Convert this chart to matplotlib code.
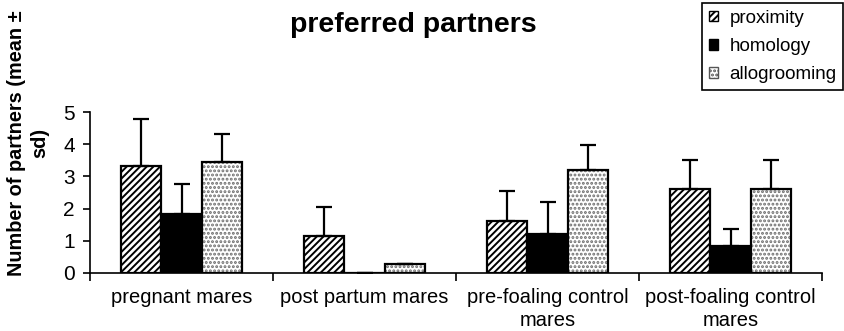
import numpy as np
import matplotlib.pyplot as plt
from matplotlib.patches import Patch

plt.rcParams['font.family'] = ['Liberation Sans', 'DejaVu Sans']
plt.rcParams['hatch.linewidth'] = 1.4

# mean number of preferred partners and sd, per group of mares
groups = ['pregnant mares', 'post partum mares',
          'pre-foaling control\nmares', 'post-foaling control\nmares']
proximity = [3.33, 1.14, 1.63, 2.61]
proximity_sd = [1.46, 0.91, 0.93, 0.90]
homology = [1.84, 0.0, 1.22, 0.83]
homology_sd = [0.93, 0.0, 0.99, 0.55]
allogrooming = [3.45, 0.29, 3.21, 2.61]
allogrooming_sd = [0.88, 0.0, 0.76, 0.90]

fig = plt.figure(figsize=(8.44, 3.31), dpi=100)
ax = fig.add_axes([90 / 844, 58 / 331, 732 / 844, 161 / 331])

x = np.arange(len(groups))
w = 0.222
err_kw = dict(fmt='none', ecolor='black', elinewidth=1.6, capsize=6, capthick=1.6)

ax.bar(x - w, proximity, w, facecolor='white', edgecolor='black', lw=1.6, hatch='/////')
ax.errorbar(x - w, proximity, yerr=[np.zeros(4), proximity_sd], **err_kw)

ax.bar(x, homology, w, facecolor='black', edgecolor='black', lw=1.6)
ax.errorbar(x, homology, yerr=[np.zeros(4), homology_sd], **err_kw)

# stippled fill first, then the black outline on top
ax.bar(x + w, allogrooming, w, facecolor='white', edgecolor='#6e6e6e', lw=0, hatch='....')
ax.bar(x + w, allogrooming, w, facecolor='none', edgecolor='black', lw=1.6)
ax.errorbar(x + w, allogrooming, yerr=[np.zeros(4), allogrooming_sd], **err_kw)

ax.set_xlim(-0.5, len(groups) - 0.5)
ax.set_ylim(0, 5)
ax.set_yticks(range(6))
ax.tick_params(axis='y', labelsize=15, length=5, width=1.2, pad=6)

# category boundaries carry the tick marks, labels sit in between
ax.set_xticks(np.arange(-0.5, len(groups), 1.0))
ax.set_xticklabels([])
ax.set_xticks(x, minor=True)
ax.set_xticklabels(groups, minor=True, fontsize=14.5, linespacing=1.25)
ax.tick_params(axis='x', which='major', length=6, width=1.2)
ax.tick_params(axis='x', which='minor', length=0, pad=11)

for s in ['top', 'right']:
    ax.spines[s].set_visible(False)
for s in ['left', 'bottom']:
    ax.spines[s].set_linewidth(1.2)

fig.text(413 / 844, 0.925, 'preferred partners', fontsize=20.5, fontweight='bold',
         ha='center', va='center')
fig.text(28 / 844, 1 - 143 / 331, 'Number of partners (mean ±\nsd)', rotation=90,
         fontsize=14.3, fontweight='bold', ha='center', va='center',
         multialignment='center', linespacing=1.25)

handles = [Patch(facecolor='white', edgecolor='black', hatch='/////', lw=1),
           Patch(facecolor='black', edgecolor='black', lw=1),
           Patch(facecolor='white', edgecolor='#555555', hatch='....', lw=1)]
leg = fig.legend(handles, ['proximity', 'homology', 'allogrooming'],
                 loc='upper right', bbox_to_anchor=(843 / 844, 1 - 3 / 331),
                 fontsize=13.5, handlelength=0.5, handleheight=0.5,
                 handletextpad=0.6, labelspacing=0.6, borderpad=0.35,
                 borderaxespad=0, fancybox=False, framealpha=1)
leg.get_frame().set_edgecolor('black')
leg.get_frame().set_linewidth(1.2)

fig.savefig('out.png', dpi=100)
